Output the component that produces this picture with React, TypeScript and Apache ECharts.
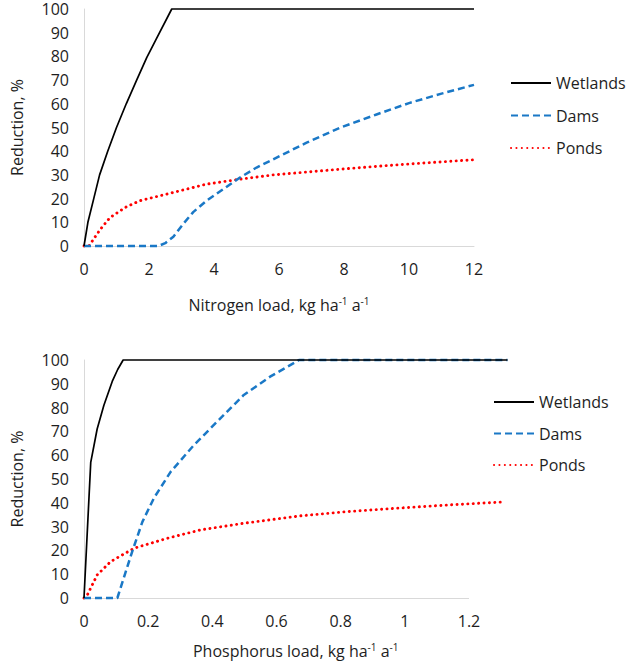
import React, { useEffect, useRef } from "react";
import * as echarts from "echarts";

// Nitrogen chart data: [load, reduction %]
const nWetlands: number[][] = [
  [0, 0], [0.12, 10], [0.3, 20], [0.48, 30], [0.73, 40], [1.0, 50], [1.3, 60],
  [1.62, 70], [1.93, 79.5], [2.21, 87], [2.7, 100], [12, 100],
];
const nDams: number[][] = [
  [0, 0], [2.29, 0], [2.5, 1.2], [2.75, 3.9], [3.06, 9.4], [3.36, 14.3], [3.77, 19.1],
  [4.29, 24], [4.8, 28.9], [5.31, 33.1], [6.03, 38], [6.85, 43.6], [7.88, 49.9],
  [9, 55.5], [10, 60.3], [11, 64.3], [12, 68],
];
const nPonds: number[][] = [
  [0, 0], [0.15, 0], [0.3, 3], [0.5, 7], [0.8, 12], [1.3, 16.5], [1.72, 19.1],
  [2.75, 22.6], [3.77, 26.1], [4.8, 28.2], [5.82, 30], [7.88, 32.4], [9, 33.6],
  [10, 34.6], [11, 35.5], [12, 36.4],
];

// Phosphorus chart data
const pWetlands: number[][] = [
  [0, 0], [0.021, 57], [0.041, 71], [0.062, 81], [0.088, 91], [0.105, 96],
  [0.122, 100], [1.32, 100],
];
const pDams: number[][] = [
  [0, 0], [0.104, 0], [0.15, 19.4], [0.182, 32], [0.218, 42], [0.27, 53],
  [0.343, 64.3], [0.415, 74.1], [0.498, 85.3], [0.58, 93], [0.67, 100], [1.32, 100],
];
const pPonds: number[][] = [
  [0, 0], [0.01, 1.2], [0.041, 9.7], [0.083, 15.3], [0.156, 20.9], [0.26, 25.1],
  [0.363, 28.6], [0.498, 31.4], [0.673, 34.5], [0.82, 36.3], [0.984, 37.8],
  [1.15, 39.2], [1.3, 40.3],
];

const seriesNames = ["Wetlands", "Dams", "Ponds"];
const nTitle = "Nitrogen load, kg ha{s|-1} a{s|-1}";
const pTitle = "Phosphorus load, kg ha{s|-1} a{s|-1}";
const yTitle = "Reduction, %";

const FONT = "Open Sans";
const FS = 16;
const TXT = "#1e1e1e";
const BLUE = "#1a78c6";
const RED = "#ff0000";
const AXIS = "#d9d9d9";

export default function App() {
  const ref = useRef<HTMLDivElement>(null);
  useEffect(() => {
    if (!ref.current) return;
    const chart = echarts.init(ref.current, undefined, { renderer: "svg" });
    const lineStyles = [
      { color: "#000", width: 1.7, type: "solid" as any },
      { color: BLUE, width: 2.5, type: [7, 4] as any },
      { color: RED, width: 2.9, type: [0.1, 5.3] as any, cap: "round" as any },
    ];
    const mkSeries = (data: number[][], i: number, axis: number, extra: any = {}) => ({
      type: "line",
      name: seriesNames[i],
      xAxisIndex: axis,
      yAxisIndex: axis,
      data,
      symbol: "none",
      clip: false,
      lineStyle: lineStyles[i],
      itemStyle: { color: lineStyles[i].color },
      z: 3 - i,
      ...extra,
    });
    const xAxisBase = {
      type: "value",
      min: 0,
      axisLine: { show: true, lineStyle: { color: AXIS, width: 1 } },
      axisTick: { show: false },
      splitLine: { show: false },
      axisLabel: { color: TXT, fontFamily: FONT, fontSize: FS, margin: 15 },
      nameLocation: "middle",
      nameTextStyle: {
        color: TXT, fontFamily: FONT, fontSize: FS,
        rich: { s: { fontSize: 10, padding: [0, 0, 8, 0], color: TXT, fontFamily: FONT } },
      },
    };
    const yAxisBase = {
      type: "value",
      min: 0,
      max: 100,
      interval: 10,
      axisLine: { show: true, lineStyle: { color: AXIS, width: 1 } },
      axisTick: { show: false },
      splitLine: { show: false },
      axisLabel: { color: TXT, fontFamily: FONT, fontSize: FS, margin: 15, lineHeight: 14 },
      name: yTitle,
      nameLocation: "middle",
      nameGap: 59,
      nameTextStyle: { color: TXT, fontFamily: FONT, fontSize: FS },
    };
    const legendBase = {
      orient: "vertical",
      padding: 0,
      itemWidth: 40,
      itemHeight: 14,
      data: seriesNames,
      itemStyle: { opacity: 0 },
      textStyle: { color: TXT, fontFamily: FONT, fontSize: FS, lineHeight: 14 },
    };
    chart.setOption({
      animation: false,
      grid: [
        { left: 84, top: 9, width: 390, height: 237 },
        { left: 84, top: 360, width: 423.5, height: 238 },
      ],
      xAxis: [
        { ...xAxisBase, gridIndex: 0, max: 12, interval: 2, name: nTitle, nameGap: 50 },
        {
          ...xAxisBase, gridIndex: 1, max: 1.32, interval: 0.2, name: pTitle, nameGap: 44,
          axisLine: { show: false },
          axisLabel: {
            ...xAxisBase.axisLabel,
            showMaxLabel: false,
            formatter: (v: number) => {
              const r = Math.round(v * 5) / 5;
              return Math.abs(r - v) < 1e-6 ? String(Math.round(v * 10) / 10) : "";
            },
          },
        },
      ],
      yAxis: [
        { ...yAxisBase, gridIndex: 0 },
        { ...yAxisBase, gridIndex: 1 },
      ],
      legend: [
        { ...legendBase, left: 510, top: 75, itemGap: 16.5 },
        { ...legendBase, left: 493, top: 394, itemGap: 15.5 },
      ],
      series: [
        mkSeries(nWetlands, 0, 0),
        mkSeries(nDams, 1, 0),
        mkSeries(nPonds, 2, 0),
        mkSeries(pWetlands, 0, 1, {
          markLine: {
            silent: true,
            symbol: "none",
            label: { show: false },
            lineStyle: { color: AXIS, width: 1, type: "solid" },
            z: 0,
            data: [[{ coord: [0, 0] }, { coord: [1.2, 0] }]],
          },
        }),
        mkSeries(pDams, 1, 1),
        mkSeries(pPonds, 2, 1),
      ],
    });
    return () => chart.dispose();
  }, []);
  return (
    <div
      ref={ref}
      style={{ position: "fixed", left: 0, top: 0, width: 630, height: 661, background: "#fff" }}
    />
  );
}
